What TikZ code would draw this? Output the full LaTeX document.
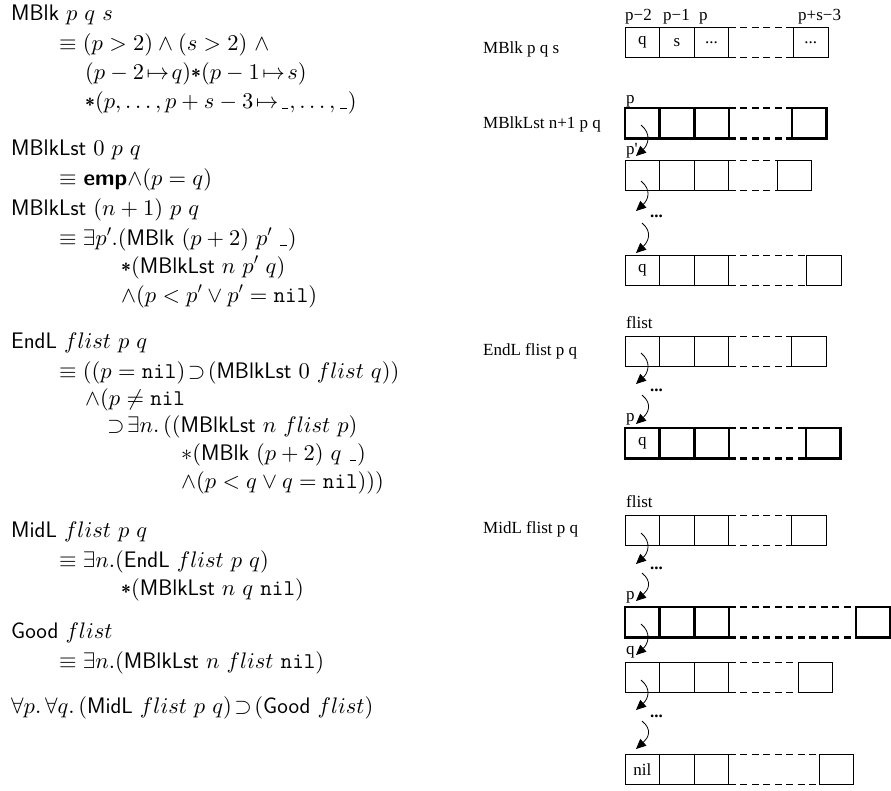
\documentclass[tikz,border=0pt]{standalone}
\usepackage{fontspec}
\newfontfamily\tms{Liberation Serif}
\DeclareFontShape{OML}{cmm}{m}{it}{<->cmmi10}{}
\DeclareFontShape{OMS}{cmsy}{m}{n}{<->cmsy10}{}
\DeclareFontShape{OT1}{cmr}{m}{n}{<->cmr10}{}
\DeclareFontShape{OMX}{cmex}{m}{n}{<->cmex10}{}
\usetikzlibrary{arrows.meta}
\newcommand\bast{\raisebox{-3.6pt}{\fontsize{18}{18}\selectfont\bfseries\sffamily *}}
\newcommand\us{\mbox{\kern1pt\rule[-1.2pt]{6.5pt}{1.7pt}\kern1pt}}
\newcommand\nl{\texttt{nil}}
\newcommand\memrow[8]{%
 \node[cell,#4] (#1a) at (625,#2) {#5};
 \node[cell,#4] (#1b) at (659.7,#2) {#6};
 \node[cell,#4] (#1c) at (694.3,#2) {#7};
 \node[cell,#4] (#1d) at (#3,#2) {#8};
 \draw[#4,gap] (#1c.north east) -- (#1d.north west) (#1c.south east) -- (#1d.south west);}
\newcommand\ptrarrow[5]{%
 \coordinate (#1s) at (#2,#3); \coordinate (#1e) at (636,#5);
 \draw[ptr] (#1s) .. controls +(11,9) and +(12,-11) .. (#1e);}
\begin{document}
\begin{tikzpicture}[x=1pt,y=-1pt,
  lt/.style={font=\fontsize{22.5}{27}\selectfont\sffamily,inner sep=0,anchor=base west},
  rt/.style={font=\tms\fontsize{17}{20}\selectfont,inner sep=0,anchor=base west},
  dots/.style={font=\tms\bfseries\fontsize{17}{20}\selectfont,inner sep=0,anchor=base west},
  cell/.style={draw,rectangle,minimum width=34.6pt,minimum height=30.5pt,inner sep=0,outer sep=0,anchor=north west,font=\tms\fontsize{17}{20}\selectfont},
  thinrow/.style={line width=0.9pt},
  thickrow/.style={line width=2.5pt},
  gap/.style={dash pattern=on 7pt off 4.5pt},
  ptr/.style={line width=0.8pt,-{Triangle[length=10pt,width=9pt]}}
]
\useasboundingbox[fill=white] (0,0) rectangle (891,790);
% ---------- left: formulas ----------
\node[lt] (l1) at (11,20) {MBlk $p\ q\ s$};
\node[lt] (l2) at (59,50) {$\equiv (p>2)\wedge(s>2)\ \wedge$};
\node[lt] (l3) at (85,79) {$(p-2\!\mapsto\! q)$\bast$(p-1\!\mapsto\! s)$};
\node[lt] (l4) at (85,108) {\bast$(p,\ldots,p+s-3\!\mapsto\!\us,\ldots,\us)$};
\node[lt] (l5) at (11,155) {MBlkLst $0\ p\ q$};
\node[lt] (l6) at (59,185) {$\equiv$ \textbf{emp}$\wedge(p=q)$};
\node[lt] (l7) at (11,215) {MBlkLst $(n+1)\ p\ q$};
\node[lt] (l8) at (59,245) {$\equiv\exists p'.($MBlk $(p+2)\ p'\ \us)$};
\node[lt] (l9) at (121,273) {\bast$($MBlkLst $n\ p'\ q)$};
\node[lt] (l10) at (121,302) {$\wedge(p<p'\vee p'=\nl)$};
\node[lt] (l11) at (11,348) {EndL $flist\ p\ q$};
\node[lt] (l12) at (59,378) {$\equiv((p=\nl)\!\supset\!($MBlkLst $0\ flist\ q))$};
\node[lt] (l13) at (85,405) {$\wedge(p\neq\nl$};
\node[lt] (l14) at (107,432) {$\supset\!\exists n.\,(($MBlkLst $n\ flist\ p)$};
\node[lt] (l15) at (181,460) {$\ast($MBlk $(p+2)\ q\ \us)$};
\node[lt] (l16) at (181,488) {$\wedge(p<q\vee q=\nl)))$};
\node[lt] (l17) at (11,537) {MidL $flist\ p\ q$};
\node[lt] (l18) at (59,567) {$\equiv\exists n.($EndL $flist\ p\ q)$};
\node[lt] (l19) at (121,595) {\bast$($MBlkLst $n\ q\ \nl)$};
\node[lt] (l20) at (11,638) {Good $flist$};
\node[lt] (l21) at (59,668) {$\equiv\exists n.($MBlkLst $n\ flist\ \nl)$};
\node[lt] (l22) at (11,713) {$\forall p.\,\forall q.\,($MidL $flist\ p\ q)\!\supset\!($Good $flist)$};
% ---------- right: pictures ----------
\node[rt] (t1) at (483,53) {MBlk p q s};
\node[rt] (t2) at (483,128) {MBlkLst n+1 p q};
\node[rt] (t3) at (483,355) {EndL flist p q};
\node[rt] (t4) at (483,533) {MidL flist p q};
% MBlk
\node[rt] (k1) at (625,20) {p−2};
\node[rt] (k2) at (663,20) {p−1};
\node[rt] (k3) at (699,20) {p};
\node[rt] (k4) at (798,20) {p+s−3};
\memrow{m}{27}{793.5}{thinrow}{q}{s}{...}{...}
% MBlkLst
\node[rt] (k5) at (626,103) {p};
\memrow{n}{108}{792}{thickrow}{}{}{}{}
\node[rt] (k6) at (626,154) {p'};
\memrow{o}{160}{777.3}{thinrow}{}{}{}{}
\node[dots] (d1) at (650,217) {...};
\memrow{r}{255}{806.7}{thinrow}{q}{}{}{}
\ptrarrow{a1}{641}{125}{}{156}
\ptrarrow{a2}{641}{181}{}{211}
\ptrarrow{a3}{642}{223}{}{253}
% EndL
\node[rt] (k7) at (626,328) {flist};
\memrow{s}{336}{791.7}{thinrow}{}{}{}{}
\node[dots] (d2) at (650,391) {...};
\node[rt] (k8) at (626,421) {p};
\memrow{u}{428}{806}{thickrow}{q}{}{}{}
\ptrarrow{b1}{641}{353}{}{384}
\ptrarrow{b2}{642}{395}{}{424}
% MidL
\node[rt] (k9) at (626,507) {flist};
\memrow{v}{515}{791.7}{thinrow}{}{}{}{}
\node[dots] (d3) at (650,569) {...};
\node[rt] (k10) at (626,599) {p};
\memrow{w}{607}{856}{thickrow}{}{}{}{}
\node[rt] (k11) at (626,654) {q};
\memrow{x}{662}{798.3}{thinrow}{}{}{}{}
\node[dots] (d4) at (650,717) {...};
\memrow{y}{754}{819.3}{thinrow}{nil}{}{}{}
\ptrarrow{c1}{641}{533}{}{564}
\ptrarrow{c2}{642}{573}{}{601}
\ptrarrow{c3}{641}{624}{}{655}
\ptrarrow{c4}{641}{680}{}{710}
\ptrarrow{c5}{642}{721}{}{749}
\end{tikzpicture}
\end{document}
